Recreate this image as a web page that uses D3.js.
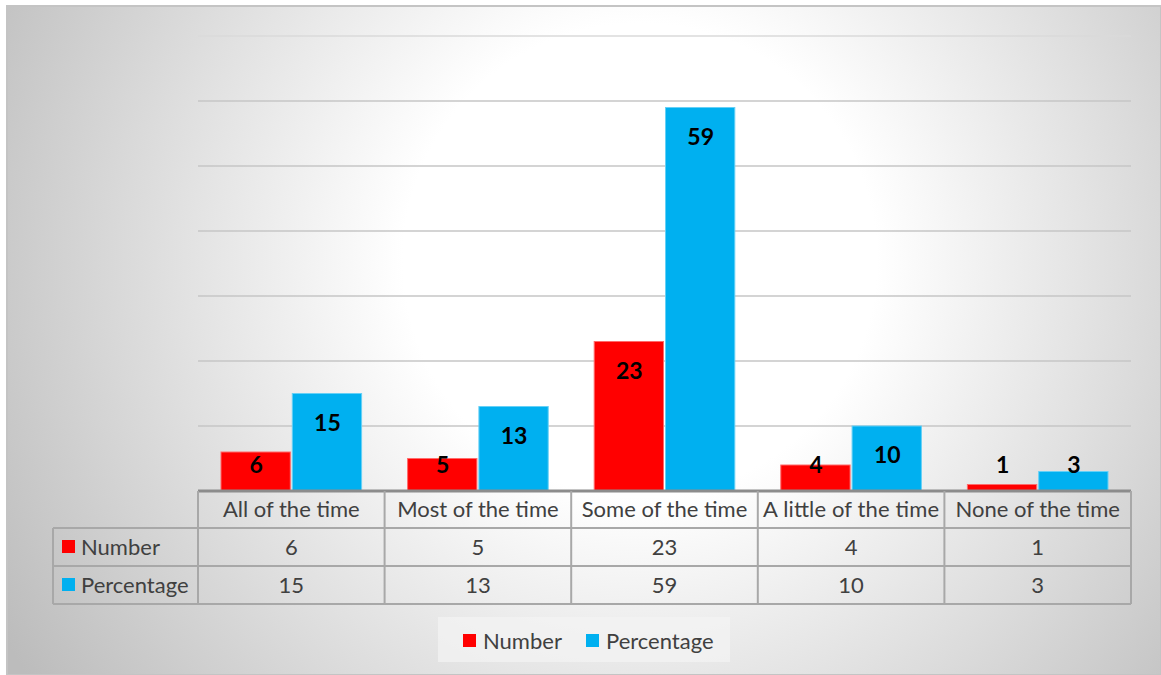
<!DOCTYPE html>
<html>
<head>
<meta charset="utf-8">
<script src="https://cdn.jsdelivr.net/npm/d3@7"></script>
<style>
  body { margin: 0; background: #fff; }
  svg { display: block; font-family: Lato, "Open Sans", sans-serif; }
</style>
</head>
<body>
<svg id="chart" width="1161" height="675"></svg>
<script>
// chart data
const categories = ["All of the time", "Most of the time", "Some of the time", "A little of the time", "None of the time"];
const seriesNames = ["Number", "Percentage"];
const numberValues = [6, 5, 23, 4, 1];
const percentageValues = [15, 13, 59, 10, 3];
const yTicks = [0, 10, 20, 30, 40, 50, 60, 70];
const colors = ["#ff0000", "#00b0f0"];

const svg = d3.select("#chart");
const W = 1161, H = 675;

// background with radial gradient
const defs = svg.append("defs");
const grad = defs.append("radialGradient")
  .attr("id", "bg")
  .attr("gradientUnits", "userSpaceOnUse")
  .attr("cx", 640).attr("cy", 260).attr("r", 740);
grad.append("stop").attr("offset", "0%").attr("stop-color", "#ffffff");
grad.append("stop").attr("offset", "32%").attr("stop-color", "#ffffff");
grad.append("stop").attr("offset", "100%").attr("stop-color", "#bcbcbc");

svg.append("rect")
  .attr("x", 7).attr("y", 6)
  .attr("width", W - 7).attr("height", H - 6)
  .attr("fill", "url(#bg)")
  .attr("stroke", "#c4c4c4").attr("stroke-width", 2);

// plot area
const plotLeft = 198, plotRight = 1131, plotTop = 36, baseline = 491;

const x = d3.scaleBand()
  .domain(categories)
  .range([plotLeft, plotRight])
  .paddingInner(0)
  .paddingOuter(0);

const y = d3.scaleLinear()
  .domain([0, 70])
  .range([baseline, plotTop]);

//
// gridlines
svg.append("g")
  .selectAll("line")
  .data(yTicks.slice(1))
  .enter()
  .append("line")
  .attr("x1", plotLeft).attr("x2", plotRight)
  .attr("y1", d => y(d)).attr("y2", d => y(d))
  .attr("stroke", d => d === 70 ? "#dadada" : "#c6c6c6")
  .attr("stroke-width", 1.5);

//
// bars
const groupPad = 23;
const barW = (x.bandwidth() - 2 * groupPad) / 2;
const series = [numberValues, percentageValues];

series.forEach((vals, si) => {
  const g = svg.append("g");
  g.selectAll("rect")
    .data(vals)
    .enter()
    .append("rect")
    .attr("x", (d, i) => x(categories[i]) + groupPad + si * (barW + 1))
    .attr("y", d => y(d))
    .attr("width", barW - 1)
    .attr("height", d => baseline - y(d))
    .attr("fill", colors[si])
    .attr("stroke", si === 0 ? "#ff6b6b" : "#66d0f6")
    .attr("stroke-width", 1);

  g.selectAll("text")
    .data(vals)
    .enter()
    .append("text")
    .attr("x", (d, i) => x(categories[i]) + groupPad + si * (barW + 1) + barW / 2)
    .attr("y", d => Math.min(y(d) + 29, baseline - 26))
    .attr("dy", "0.35em")
    .attr("text-anchor", "middle")
    .attr("font-size", 23)
    .attr("font-weight", "bold")
    .attr("fill", "#000")
    .text(d => d);
});

//
// data table
const rowH = [491, 528, 566, 604];
const tableLeft = 53;
const tbl = svg.append("g").attr("stroke", "#a8a8a8").attr("stroke-width", 2);

// horizontal lines
tbl.append("line").attr("x1", plotLeft).attr("x2", plotRight).attr("y1", rowH[0]).attr("y2", rowH[0])
  .attr("stroke", "#8c8c8c").attr("stroke-width", 3);
rowH.slice(1).forEach(yy => {
  tbl.append("line").attr("x1", tableLeft).attr("x2", plotRight).attr("y1", yy).attr("y2", yy);
});
// vertical lines
tbl.append("line").attr("x1", tableLeft).attr("x2", tableLeft).attr("y1", rowH[1]).attr("y2", rowH[3]);
categories.concat([null]).forEach(c => {
  const xx = c ? x(c) : plotRight;
  tbl.append("line").attr("x1", xx).attr("x2", xx).attr("y1", rowH[0]).attr("y2", rowH[3]);
});

const tableText = svg.append("g")
  .attr("font-size", 22)
  .attr("fill", "#404040")
  .attr("text-anchor", "middle");

categories.forEach(c => {
  tableText.append("text")
    .attr("x", x(c) + x.bandwidth() / 2)
    .attr("y", (rowH[0] + rowH[1]) / 2)
    .attr("dy", "0.35em")
    .attr("textLength", c.length > 17 ? 176 : null)
    .text(c);
});
series.forEach((vals, si) => {
  vals.forEach((v, i) => {
    tableText.append("text")
      .attr("x", x(categories[i]) + x.bandwidth() / 2)
      .attr("y", (rowH[si + 1] + rowH[si + 2]) / 2)
      .attr("dy", "0.35em")
      .text(v);
  });
  // row header key + name
  svg.append("rect")
    .attr("x", 62).attr("y", (rowH[si + 1] + rowH[si + 2]) / 2 - 7)
    .attr("width", 13).attr("height", 13)
    .attr("fill", colors[si]);
  svg.append("text")
    .attr("x", 81)
    .attr("y", (rowH[si + 1] + rowH[si + 2]) / 2)
    .attr("dy", "0.35em")
    .attr("font-size", 22)
    .attr("fill", "#404040")
    .text(seriesNames[si]);
});

//
// legend
const legend = svg.append("g");
legend.append("rect")
  .attr("x", 438).attr("y", 617)
  .attr("width", 292).attr("height", 45)
  .attr("fill", "#f4f4f4").attr("opacity", 0.7);
const legendX = [463, 586];
seriesNames.forEach((name, si) => {
  legend.append("rect")
    .attr("x", legendX[si]).attr("y", 634)
    .attr("width", 13).attr("height", 13)
    .attr("fill", colors[si]);
  legend.append("text")
    .attr("x", legendX[si] + 20).attr("y", 641)
    .attr("dy", "0.35em")
    .attr("font-size", 22)
    .attr("fill", "#404040")
    .text(name);
});
</script>
</body>
</html>
